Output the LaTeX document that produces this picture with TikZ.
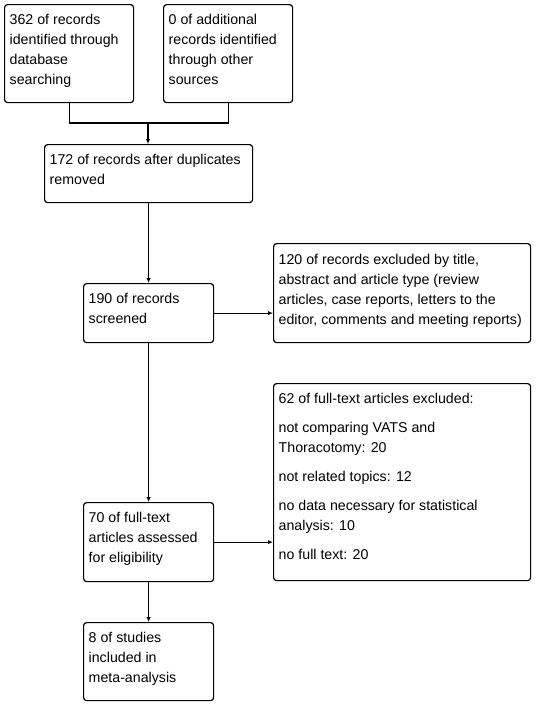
\documentclass[tikz,border=0pt]{standalone}
\usepackage{fontspec}
\setmainfont{Liberation Sans}
\usetikzlibrary{arrows.meta}
\begin{document}
\begin{tikzpicture}[x=1pt,y=-1pt,
  box/.style={draw, line width=1.2pt, rounded corners=3pt, anchor=north west, inner sep=0pt},
  txt/.style={anchor=north west, inner sep=0pt, align=left,
    font=\fontsize{14.2pt}{20pt}\selectfont, execute at begin node={\rule{0pt}{11pt}}},
  conn/.style={line width=1.2pt},
  arr/.style={conn, -{Latex[length=5pt,width=4.5pt]}}]
\useasboundingbox (0,0) rectangle (536,705);
% boxes
\node[box, minimum width=129pt, minimum height=98pt] (b1) at (4,4) {};
\node[box, minimum width=129pt, minimum height=98pt] (b2) at (163,4) {};
\node[box, minimum width=208pt, minimum height=58pt] (b3) at (44,144) {};
\node[box, minimum width=130pt, minimum height=59pt] (b4) at (83,283) {};
\node[box, minimum width=257pt, minimum height=99pt] (b5) at (273,243) {};
\node[box, minimum width=257pt, minimum height=197pt] (b6) at (273,383) {};
\node[box, minimum width=130pt, minimum height=79pt] (b7) at (83,502) {};
\node[box, minimum width=130pt, minimum height=78pt] (b8) at (83,622) {};
% texts
\node[txt] (t1) at (9.5,14) {362 of records\\identified through\\database\\searching};
\node[txt] (t2) at (168.5,14) {0 of additional\\records identified\\through other\\sources};
\node[txt] (t3) at (49.5,154) {172 of records after duplicates\\removed};
\node[txt] (t4) at (88.5,293) {190 of records\\screened};
\node[txt] (t5) at (278.5,254) {120 of records excluded by title,\\abstract and article type (review\\articles, case reports, letters to the\\editor, comments and meeting reports)};
\node[txt] (t6) at (278.5,393) {62 of full-text articles excluded:\\[9pt]not comparing VATS and\\Thoracotomy: 20\\[9pt]not related topics: 12\\[9pt]no data necessary for statistical\\analysis: 10\\[9pt]no full text: 20};
\node[txt] (t7) at (88.5,512) {70 of full-text\\articles assessed\\for eligibility};
\node[txt] (t8) at (88.5,632) {8 of studies\\included in\\meta-analysis};
% connectors
\coordinate (j) at (148,123);
\coordinate (jl) at (b1.south |- j);
\coordinate (jr) at (b2.south |- j);
\draw[conn, line join=miter] (b1.south) -- (jl) -- (jr) -- (b2.south);
\draw[arr] (j) -- (j |- b3.north);
\draw[arr] (b3.south) -- (b4.north);
\draw[arr] (b4.south) -- (b7.north);
\draw[arr] (b7.south) -- (b8.north);
\draw[arr] (b4.east) -- (b4.east -| b5.west);
\draw[arr] (b7.east) -- (b7.east -| b6.west);
\end{tikzpicture}
\end{document}
